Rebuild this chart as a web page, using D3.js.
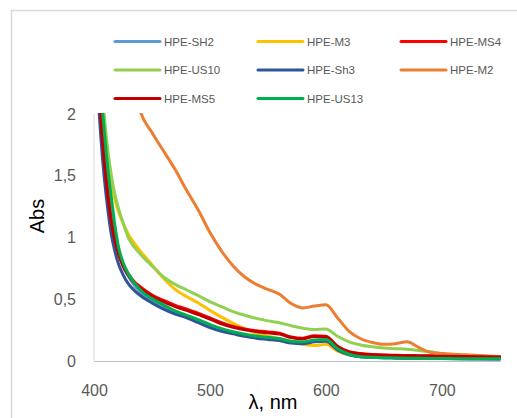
<!DOCTYPE html>
<html><head><meta charset="utf-8">
<script src="https://cdn.jsdelivr.net/npm/d3@7"></script>
<style>html,body{margin:0;padding:0;background:#fff;}svg{display:block;}</style>
</head><body>
<svg id="chart" width="517" height="418"></svg>
<script>
// Wavelength grid (nm)
const wavelengths = [400,403,406,409,412,415,418,421,425,430,435,440,450,460,470,480,490,500,510,520,530,540,550,560,570,580,590,600,610,620,630,640,650,660,670,680,690,700,720,750];

const seriesNames = ["HPE-SH2","HPE-M3","HPE-MS4","HPE-US10","HPE-Sh3","HPE-M2","HPE-MS5","HPE-US13"];
const seriesColors = ["#5B9BD5","#FFC000","#FF0000","#92D050","#2F5597","#ED7D31","#C00000","#00B050"];

const SH2  = [3.1,2.55,2.05,1.70,1.42,1.20,1.02,0.89,0.77,0.68,0.61,0.56,0.49,0.44,0.395,0.36,0.325,0.285,0.255,0.23,0.21,0.195,0.185,0.175,0.155,0.15,0.165,0.17,0.095,0.052,0.035,0.03,0.027,0.025,0.023,0.022,0.021,0.02,0.018,0.017];
const M3   = [3.3,2.75,2.25,1.90,1.64,1.45,1.31,1.21,1.12,1.02,0.95,0.89,0.78,0.67,0.58,0.52,0.47,0.41,0.355,0.305,0.26,0.225,0.2,0.18,0.155,0.135,0.125,0.135,0.08,0.05,0.04,0.037,0.035,0.033,0.032,0.031,0.03,0.028,0.026,0.025];
const MS4  = [3.0,2.45,1.97,1.62,1.35,1.14,0.99,0.88,0.78,0.70,0.64,0.60,0.535,0.49,0.45,0.42,0.385,0.35,0.31,0.28,0.26,0.245,0.235,0.225,0.195,0.185,0.205,0.20,0.12,0.075,0.06,0.052,0.048,0.046,0.045,0.043,0.042,0.04,0.038,0.035];
const US10 = [3.4,2.85,2.35,1.97,1.70,1.50,1.35,1.24,1.12,0.99,0.92,0.865,0.77,0.68,0.62,0.575,0.53,0.48,0.44,0.40,0.37,0.345,0.325,0.31,0.285,0.265,0.255,0.26,0.20,0.155,0.13,0.115,0.105,0.10,0.095,0.085,0.075,0.06,0.045,0.035];
const Sh3  = [2.9,2.25,1.80,1.47,1.22,1.02,0.89,0.79,0.70,0.62,0.57,0.53,0.47,0.42,0.38,0.35,0.31,0.27,0.24,0.22,0.20,0.185,0.175,0.165,0.145,0.14,0.155,0.16,0.09,0.05,0.035,0.03,0.027,0.025,0.023,0.022,0.021,0.02,0.018,0.016];
const M2   = [6.0,5.3,4.7,4.2,3.8,3.45,3.15,2.9,2.65,2.4,2.2,2.02,1.85,1.70,1.55,1.38,1.22,1.04,0.89,0.77,0.68,0.62,0.58,0.54,0.465,0.43,0.445,0.455,0.35,0.24,0.18,0.15,0.135,0.14,0.155,0.11,0.07,0.06,0.05,0.035];
const MS5  = [2.98,2.43,1.95,1.60,1.33,1.12,0.975,0.87,0.77,0.69,0.63,0.59,0.525,0.48,0.44,0.41,0.375,0.34,0.30,0.272,0.252,0.238,0.228,0.218,0.19,0.18,0.198,0.195,0.115,0.072,0.057,0.05,0.046,0.044,0.043,0.041,0.04,0.038,0.036,0.033];
const US13 = [3.2,2.7,2.2,1.85,1.55,1.32,1.10,0.93,0.80,0.70,0.63,0.575,0.505,0.455,0.405,0.37,0.335,0.295,0.262,0.237,0.217,0.202,0.192,0.182,0.16,0.155,0.17,0.175,0.10,0.055,0.035,0.03,0.027,0.025,0.023,0.022,0.021,0.02,0.019,0.018];

const seriesValues = [SH2,M3,MS4,US10,Sh3,M2,MS5,US13];

const yTicks = [0,0.5,1,1.5,2];
const yTickLabels = ["0","0,5","1","1,5","2"];
const xTicks = [400,500,600,700];
const xTickLabels = ["400","500","600","700"];

const svg = d3.select("#chart");
const plot = {left:94, right:501, top:114, bottom:361};

const x = d3.scaleLinear().domain([400,751]).range([plot.left, plot.right]);
const y = d3.scaleLinear().domain([0,2]).range([plot.bottom, plot.top]);

// outer chart frame
svg.append("rect").attr("x",11.5).attr("y",10.5).attr("width",530).attr("height",430)
  .attr("fill","#fff").attr("stroke","#d9d9d9").attr("stroke-width",1.5);

// axes lines
svg.append("line").attr("x1",plot.left).attr("x2",plot.left).attr("y1",plot.top).attr("y2",plot.bottom)
  .attr("stroke","#d9d9d9").attr("stroke-width",1);
svg.append("line").attr("x1",plot.left).attr("x2",plot.right).attr("y1",plot.bottom+0.5).attr("y2",plot.bottom+0.5)
  .attr("stroke","#bfbfbf").attr("stroke-width",1);

// y tick labels
const yAxis = d3.axisLeft(y).tickValues(yTicks).tickFormat((d,i)=>yTickLabels[i]).tickSize(0).tickPadding(18);
const gy = svg.append("g").attr("transform",`translate(${plot.left},0)`).call(yAxis);
gy.select(".domain").remove();
gy.selectAll("text").attr("font-family","'Liberation Sans', Arial, sans-serif").attr("font-size",16).attr("fill","#595959");

// x tick labels
const xAxis = d3.axisBottom(x).tickValues(xTicks).tickFormat((d,i)=>xTickLabels[i]).tickSize(0).tickPadding(24);
const gx = svg.append("g").attr("transform",`translate(0,${plot.bottom})`).call(xAxis);
gx.select(".domain").remove();
gx.selectAll("text").attr("font-family","'Liberation Sans', Arial, sans-serif").attr("font-size",16).attr("fill","#595959");

// clip
svg.append("clipPath").attr("id","plotclip").append("rect")
  .attr("x",plot.left).attr("y",plot.top-1).attr("width",plot.right-plot.left).attr("height",plot.bottom-plot.top+3);

const line = d3.line().x((d,i)=>x(wavelengths[i])).y(d=>y(d)).curve(d3.curveMonotoneX);
const gLines = svg.append("g").attr("clip-path","url(#plotclip)");
seriesValues.forEach((vals,k)=>{
  gLines.append("path").attr("d",line(vals)).attr("fill","none")
    .attr("stroke",seriesColors[k]).attr("stroke-width",3).attr("stroke-linejoin","round").attr("stroke-linecap","round");
});

// axis titles
svg.append("text").attr("transform","translate(44,216) rotate(-90)").attr("text-anchor","middle")
  .attr("font-family","'Liberation Sans', Arial, sans-serif").attr("font-size",20).attr("fill","#000").text("Abs");
svg.append("text").attr("x",273).attr("y",409).attr("text-anchor","middle")
  .attr("font-family","'Liberation Sans', Arial, sans-serif").attr("font-size",20).attr("fill","#000").text("λ, nm");

// legend
const legCols = [115,258,401];
const legRows = [41.5,70,98.5];
seriesNames.forEach((name,k)=>{
  const cx = legCols[k%3], cy = legRows[Math.floor(k/3)];
  svg.append("line").attr("x1",cx).attr("x2",cx+45).attr("y1",cy).attr("y2",cy)
    .attr("stroke",seriesColors[k]).attr("stroke-width",3).attr("stroke-linecap","round");
  svg.append("text").attr("x",cx+49).attr("y",cy+4).attr("font-family","'Liberation Sans', Arial, sans-serif")
    .attr("font-size",11.5).attr("fill","#595959").text(name);
});
</script>
</body></html>
